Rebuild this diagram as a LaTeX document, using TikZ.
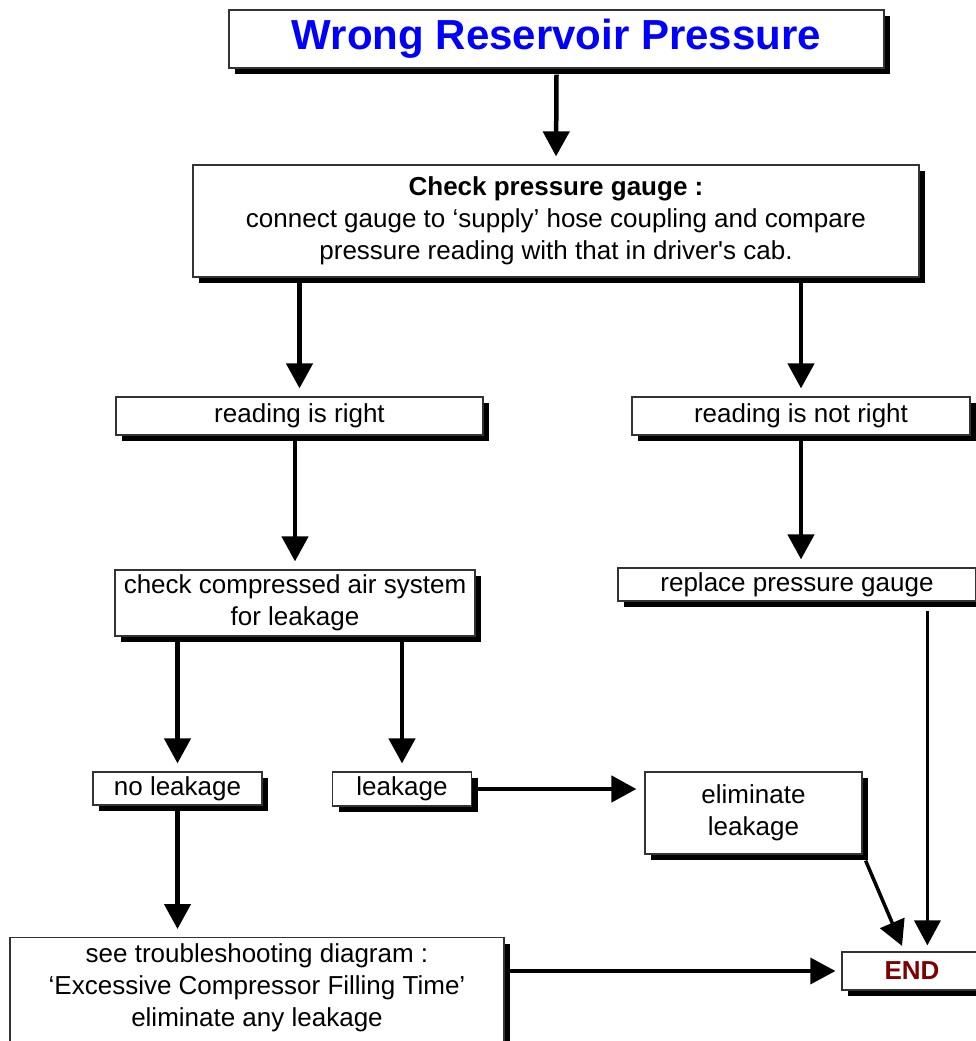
\documentclass[tikz,border=0pt]{standalone}
\usepackage{fontspec}
\setmainfont{Liberation Sans}
\usetikzlibrary{arrows.meta,shadows}
\definecolor{titleblue}{RGB}{0,0,255}
\definecolor{endred}{RGB}{128,0,0}
\tikzset{
 box/.style={draw=black!80, line width=1.2pt, fill=white, inner sep=0pt, align=center,
   font=\fontsize{26}{32}\selectfont,
   drop shadow={shadow xshift=6pt, shadow yshift=-6pt, opacity=1, fill=black}},
 arr/.style={line width=4.5pt, -{Triangle[width=26pt,length=25pt]}, shorten >=8pt},
 tarr/.style={line width=3.5pt, -{Triangle[width=26pt,length=25pt]}, shorten >=6pt},
}
\begin{document}
\begin{tikzpicture}[x=1pt,y=-1pt]
\useasboundingbox (0,0) rectangle (976,1041);
\node[box, minimum width=655pt, minimum height=58pt, text=titleblue,
  font=\fontsize{42}{50}\bfseries\selectfont] (title) at (556.5,39) {Wrong Reservoir Pressure};
\node[box, minimum width=726pt, minimum height=112pt] (check) at (556,221)
  {\textbf{Check pressure gauge :}\\connect gauge to ‘supply’ hose coupling and compare\\pressure reading with that in driver\textquotesingle s cab.};
\node[box, minimum width=367pt, minimum height=38pt] (rr) at (299.5,416) {reading is right};
\node[box, minimum width=338pt, minimum height=38pt] (rnr) at (801,416) {reading is not right};
\node[box, minimum width=360pt, minimum height=66pt] (cc) at (295,603) {check compressed air system\\for leakage};
\node[box, minimum width=358pt, minimum height=33pt] (rp) at (797,584.5) {replace pressure gauge};
\node[box, minimum width=169pt, minimum height=33pt] (nl) at (177.5,788.5) {no leakage};
\node[box, minimum width=139pt, minimum height=34pt] (lk) at (402,789) {leakage};
\node[box, minimum width=217pt, minimum height=82pt] (el) at (753.5,813) {eliminate\\leakage};
\node[box, minimum width=140pt, minimum height=38pt, text=endred,
  font=\fontsize{26}{32}\bfseries\selectfont] (en) at (912,971) {END};
\node[box, minimum width=494pt, anchor=north, inner ysep=6pt, text depth=90pt] (ts) at (257,937)
  {see troubleshooting diagram :\\‘Excessive Compressor Filling Time’\\eliminate any leakage};
\coordinate (ein) at ([xshift=86pt]en.north west);
\draw[arr] ([yshift=-6pt]title.south) -- (check.north);
\draw[arr] (check.south -| rr.north) -- (rr.north);
\draw[arr] (check.south -| rnr.north) -- (rnr.north);
\draw[arr] (rr.south -| cc.north) -- (cc.north);
\draw[arr] (rnr.south) -- (rnr.south |- rp.north);
\draw[arr] (cc.south -| nl.north) -- (nl.north);
\draw[arr] (cc.south -| lk.north) -- (lk.north);
\draw[arr] (lk.east) -- (lk.east -| el.west);
\draw[arr] (nl.south) -- (nl.south |- ts.north);
\draw[tarr] (en.west -| ts.east) -- (en.west);
\draw[tarr, shorten <=9pt] (rp.south -| ein) -- (ein);
\draw[tarr] ([shift={(3pt,-6pt)}]el.south east) -- ([xshift=63pt]en.north west);
\end{tikzpicture}
\end{document}
